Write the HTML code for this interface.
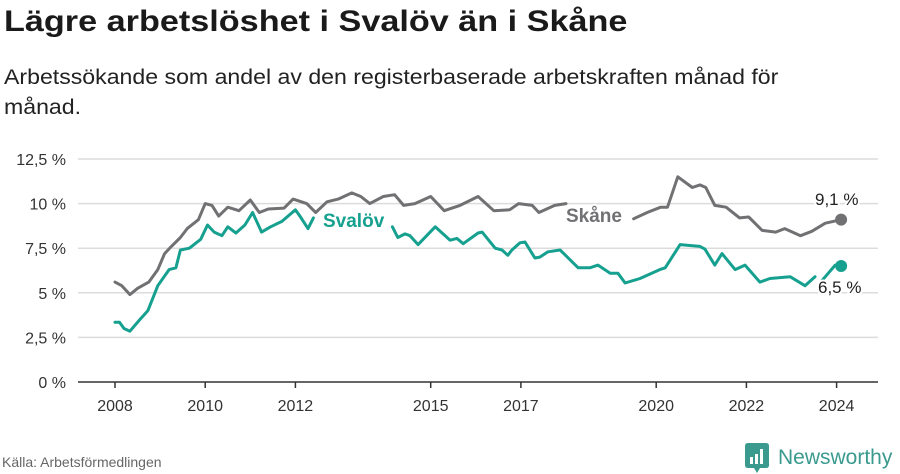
<!DOCTYPE html>
<html><head><meta charset="utf-8">
<style>
body{margin:0;width:900px;height:474px;background:#fff;font-family:"Liberation Sans","DejaVu Sans",sans-serif;position:relative;overflow:hidden}
#title{position:absolute;left:4px;top:5px;font-size:30px;font-weight:bold;color:#1a1a1a;margin:0;white-space:nowrap;transform:scaleX(1.14);transform-origin:left top}
#subtitle{position:absolute;left:4px;top:63px;font-size:21px;line-height:30px;color:#222;margin:0;white-space:nowrap;transform:scaleX(1.1);transform-origin:left top}
#source{position:absolute;left:2px;top:454px;font-size:14px;color:#666}
#logo{position:absolute;left:745px;top:443px;display:flex;align-items:center}
#logo span{font-size:21px;color:#3a9a8e;margin-left:9px;font-weight:normal}
svg{position:absolute;left:0;top:0}
</style></head><body>
<h1 id="title">Lägre arbetslöshet i Svalöv än i Skåne</h1>
<p id="subtitle">Arbetssökande som andel av den registerbaserade arbetskraften månad för<br>månad.</p>
<svg id="chart" width="900" height="474"></svg>
<div id="source">Källa: Arbetsförmedlingen</div>
<div id="logo">
<svg width="24" height="30" style="position:static"><path d="M0 3 Q0 0 3 0 H21 Q24 0 24 3 V22 Q24 25 21 25 H15 L12 30 L9 25 H3 Q0 25 0 22Z" fill="#3a9a8e"/><rect x="5" y="14" width="3" height="7" fill="#fff"/><rect x="10" y="11" width="3" height="10" fill="#fff"/><rect x="15" y="6" width="3" height="15" fill="#fff"/></svg>
<span>Newsworthy</span></div>
<script>
const yTicks=[0,2.5,5,7.5,10,12.5];
const yTickLabels=["0 %","2,5 %","5 %","7,5 %","10 %","12,5 %"];
const xTicks=[2008,2010,2012,2015,2017,2020,2022,2024];
const skaneYears=[2008.0,2008.15,2008.33,2008.5,2008.75,2008.95,2009.1,2009.25,2009.45,2009.6,2009.85,2010.0,2010.15,2010.3,2010.5,2010.75,2011.0,2011.2,2011.4,2011.75,2011.95,2012.25,2012.45,2012.7,2012.95,2013.25,2013.45,2013.65,2013.95,2014.2,2014.4,2014.65,2015.0,2015.3,2015.65,2016.05,2016.4,2016.75,2016.95,2017.25,2017.4,2017.75,2018.0,2018.5,2019.5,2019.8,2020.1,2020.25,2020.48,2020.8,2020.97,2021.1,2021.3,2021.55,2021.85,2022.05,2022.35,2022.65,2022.85,2023.2,2023.45,2023.75,2024.1];
const skaneValues=[5.6,5.4,4.9,5.25,5.6,6.3,7.2,7.6,8.1,8.6,9.1,10.0,9.9,9.3,9.8,9.6,10.2,9.5,9.7,9.75,10.25,10.0,9.5,10.1,10.25,10.6,10.4,10.0,10.4,10.5,9.9,10.0,10.4,9.6,9.9,10.4,9.6,9.65,10.0,9.9,9.5,9.9,10.0,null,9.15,9.5,9.8,9.8,11.5,10.9,11.05,10.9,9.9,9.8,9.2,9.25,8.5,8.4,8.6,8.2,8.45,8.9,9.1];
const svalovYears=[2008.0,2008.1,2008.2,2008.33,2008.55,2008.73,2008.95,2009.2,2009.35,2009.45,2009.65,2009.9,2010.05,2010.2,2010.37,2010.5,2010.68,2010.88,2011.05,2011.25,2011.45,2011.7,2012.0,2012.1,2012.28,2012.4,2013.0,2014.15,2014.27,2014.43,2014.54,2014.72,2015.1,2015.43,2015.58,2015.72,2016.05,2016.14,2016.43,2016.58,2016.71,2016.8,2016.98,2017.09,2017.31,2017.42,2017.6,2017.87,2018.27,2018.53,2018.71,2018.98,2019.15,2019.31,2019.64,2020.08,2020.2,2020.53,2020.97,2021.08,2021.3,2021.46,2021.75,2021.97,2022.3,2022.52,2022.97,2023.3,2023.52,2023.6,2023.68,2023.97,2024.1];
const svalovValues=[3.35,3.35,3.0,2.85,3.5,4.0,5.4,6.3,6.4,7.4,7.5,8.0,8.8,8.4,8.2,8.7,8.35,8.8,9.5,8.4,8.7,9.0,9.65,9.3,8.6,9.2,null,8.7,8.1,8.3,8.2,7.7,8.7,7.95,8.05,7.75,8.35,8.4,7.5,7.4,7.1,7.4,7.8,7.85,6.95,7.0,7.3,7.4,6.4,6.4,6.55,6.1,6.1,5.55,5.8,6.3,6.4,7.7,7.6,7.45,6.55,7.2,6.3,6.55,5.6,5.8,5.9,5.4,5.9,null,5.7,6.55,6.5];

const NS="http://www.w3.org/2000/svg";
const svg=document.getElementById('chart');
const X=y=>115+(y-2008)*45.1;
const Y=v=>382-v*17.84;
function mk(tag,attrs){const e=document.createElementNS(NS,tag);for(const k in attrs)e.setAttribute(k,attrs[k]);svg.appendChild(e);return e;}
yTicks.forEach((t,i)=>{
  if(t>0){const g=mk('line',{x1:78,x2:878,y1:Y(t),y2:Y(t),stroke:'#dcdcdc','stroke-width':1.5});
  
  }
  const l=mk('text',{x:66,y:Y(t)+6,'text-anchor':'end','font-size':16,fill:'#333'});
  l.textContent=yTickLabels[i];
  
  
});
const ax=mk('line',{x1:78,x2:878,y1:382,y2:382,stroke:'#333','stroke-width':1.5});


xTicks.forEach(t=>{
  const tk=mk('line',{x1:X(t),x2:X(t),y1:382,y2:388,stroke:'#333','stroke-width':1.5});
  
  
  const l=mk('text',{x:X(t),y:411,'text-anchor':'middle','font-size':16,fill:'#333'});
  l.textContent=t;
  
  
});
function series(years,vals,color,name){
  let d='',pen=false;
  years.forEach((yr,i)=>{const v=vals[i];if(v==null){pen=false;return;}
    d+=(pen?'L':'M')+X(yr).toFixed(1)+' '+Y(v).toFixed(1);pen=true;});
  const p=mk('path',{d:d,fill:'none',stroke:color,'stroke-width':3,'stroke-linejoin':'round','stroke-linecap':'round'});
  
  
  const n=years.length-1;
  const c=mk('circle',{cx:X(years[n]),cy:Y(vals[n]),r:6,fill:color});
  
  
}
series(skaneYears,skaneValues,'#717174','skane');
series(svalovYears,svalovValues,'#16a08f','svalov');
function lab(x,y,txt,color,bold,name){
  const t=mk('text',{x:x,y:y,'font-size':bold?19:17,fill:color,'font-weight':bold?'bold':'normal',stroke:'#fff','stroke-width':4,'paint-order':'stroke'});
  t.textContent=txt;
  
  
}
lab(323,227,'Svalöv','#16a08f',true,'svalov-label');
lab(566,222,'Skåne','#717174',true,'skane-label');
lab(815,205,'9,1 %','#222',false,'skane-value-label');
lab(818,293,'6,5 %','#222',false,'svalov-value-label');
</script>
</body></html>
